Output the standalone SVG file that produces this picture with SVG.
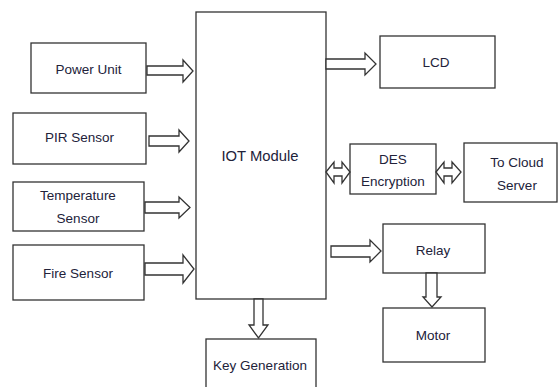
<svg xmlns="http://www.w3.org/2000/svg" width="559" height="387" viewBox="0 0 559 387">
<style>
.box{fill:#fff;stroke:#333;stroke-width:1.3}
.arr{fill:#fff;stroke:#333;stroke-width:1.3;stroke-linejoin:miter}
text{font-family:"Liberation Sans",Arial,sans-serif;font-size:13.5px;fill:#22223a;text-anchor:middle;dominant-baseline:central}
.big{font-size:14.8px}
</style>
<rect width="559" height="387" fill="#fff"/>
<g id="power-unit"><rect class="box" x="31" y="43" width="115" height="50"/><text x="88.5" y="69">Power Unit</text></g>
<g id="pir-sensor"><rect class="box" x="13" y="113" width="133" height="51"/><text x="79.5" y="137">PIR Sensor</text></g>
<g id="temperature-sensor"><rect class="box" x="13" y="182" width="131" height="49"/><text x="78" y="195">Temperature</text><text x="78" y="218">Sensor</text></g>
<g id="fire-sensor"><rect class="box" x="13" y="245" width="131" height="55"/><text x="78" y="273">Fire Sensor</text></g>
<g id="iot-module"><rect class="box" x="196" y="12" width="130" height="287"/><text class="big" x="260" y="156">IOT Module</text></g>
<g id="lcd"><rect class="box" x="380" y="36" width="115" height="52"/><text x="436" y="62">LCD</text></g>
<g id="des-encryption"><rect class="box" x="350" y="144" width="86" height="50"/><text x="393" y="159">DES</text><text x="393" y="181">Encryption</text></g>
<g id="cloud-server"><rect class="box" x="464" y="143" width="93" height="59"/><text x="517" y="162">To Cloud</text><text x="517" y="185">Server</text></g>
<g id="relay"><rect class="box" x="383" y="224" width="102" height="49"/><text x="433" y="250">Relay</text></g>
<g id="motor"><rect class="box" x="383" y="308" width="102" height="54"/><text x="433" y="335">Motor</text></g>
<g id="key-generation"><rect class="box" x="206" y="339" width="110" height="60"/><text x="260" y="365">Key Generation</text></g>
<g id="connectors">
<polygon class="arr" points="147,66 183,66 183,60 193,71 183,82 183,75 147,75"/>
<polygon class="arr" points="149,136 179,136 179,130 189,141 179,152 179,146 149,146"/>
<polygon class="arr" points="145,202 179,202 179,197 190,207.5 179,218 179,213 145,213"/>
<polygon class="arr" points="145,263 183,263 183,255 194,269 183,283 183,275 145,275"/>
<polygon class="arr" points="326,59 365,59 365,53 376,64 365,75 365,69 326,69"/>
<polygon class="arr" points="331,246 370,246 370,240 381,251 370,262 370,257 331,257"/>
<polygon class="arr" points="254,299 263,299 263,325 268,325 258.5,338 249,325 254,325"/>
<polygon class="arr" points="426,273 437,273 437,297 441,297 432,307 423,297 426,297"/>
<polygon class="arr" points="326,172 334,162 334,168 342,168 342,162 350,172 342,183 342,176 334,176 334,183"/>
<polygon class="arr" points="436,172 444,162 444,168 452,168 452,162 461,172 452,183 452,176 444,176 444,183"/>
</g>
</svg>
